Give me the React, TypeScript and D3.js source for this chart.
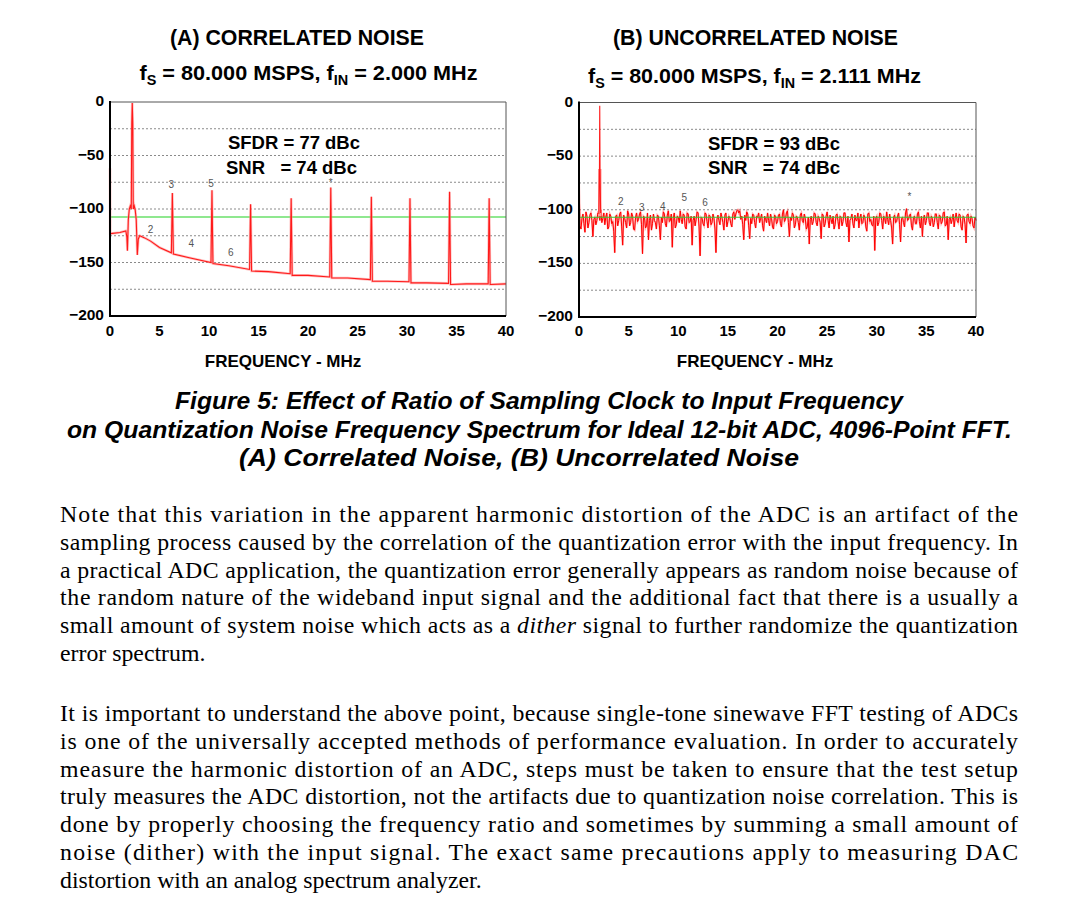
import React from 'react';
import * as d3 from 'd3';

// ---------- data ----------
const freqTicks = [0, 5, 10, 15, 20, 25, 30, 35, 40];
const dbTickLabels = [0, -50, -100, -150, -200];
const gridDb = [-25, -50, -75, -100, -125, -150, -175];

// (A) correlated noise trace: frequency (MHz) / level (dB)
const corrFreq = [0, 0.02, 0.06, 1.0, 1.6, 1.7, 1.76, 1.85, 1.95, 2.05, 2.15, 2.2, 2.25, 2.3, 2.35, 2.45, 2.55, 2.65, 2.76, 2.86, 3.0, 3.5, 4.1, 5.0, 6.2, 6.3, 6.4, 8.0, 10.2, 10.3, 10.4, 12.0, 14.1, 14.2, 14.3, 16.0, 18.2, 18.3, 18.4, 20.0, 22.2, 22.3, 22.4, 24.0, 26.3, 26.4, 26.5, 28.0, 30.2, 30.3, 30.4, 32.0, 34.2, 34.3, 34.4, 36.0, 38.2, 38.3, 38.4, 40.0];
const corrDb = [-62, -123, -123, -122, -120.5, -126, -139, -110, -100, -97, -100, -20, -1, -20, -100, -97, -101, -110, -143, -128, -125, -127, -130, -136, -141, -85, -142, -145.5, -150, -82.5, -151, -153, -156.5, -95.5, -158, -158.5, -160.5, -90, -162, -162, -163.5, -80, -164.5, -164.5, -166, -88.5, -167.5, -167.5, -168, -90, -169, -169, -169.5, -84, -170.5, -170, -170, -90, -170.5, -170];
const corrLabelText = ['2', '3', '4', '5', '6', '*'];
const corrLabelFreq = [4.1, 6.2, 8.2, 10.2, 12.2, 22.3];
const corrLabelDb = [-120, -78, -133, -77, -141, -76];

// (B) uncorrelated noise: levels every 0.1 MHz from 0 to 40 MHz
const uncorrStep = 0.1;
const uncorrDb = [
  -72, -115, -118, -108, -104, -113, -121, -102, -106, -117, -112, -105, -103, -110, -125, -109, -107, -114, -110, -103,
  -104, -110, -100, -112, -108, -103, -114, -107, -103, -118, -116, -104, -106, -113, -111, -120, -140, -106, -105, -115,
  -110, -104, -102, -116, -133, -105, -108, -112, -117, -101, -104, -115, -112, -103, -106, -118, -119, -107, -103, -111,
  -109, -104, -102, -114, -141, -106, -107, -117, -115, -103, -128, -110, -105, -119, -113, -104, -110, -112, -118, -105,
  -106, -115, -128, -107, -112, -102, -104, -113, -116, -105, -101, -111, -110, -104, -135, -108, -103, -117, -114, -106,
  -107, -112, -101, -109, -113, -104, -105, -116, -118, -103, -104, -112, -111, -106, -133, -110, -106, -115, -109, -102,
  -103, -116, -143, -107, -108, -113, -115, -103, -104, -111, -117, -105, -106, -114, -112, -104, -108, -118, -140, -109,
  -105, -110, -114, -103, -107, -112, -119, -105, -103, -116, -111, -106, -108, -113, -116, -104, -102, -109, -104, -101,
  -100, -103, -101, -109, -106, -114, -128, -105, -110, -102, -104, -115, -127, -108, -113, -104, -105, -112, -117, -106,
  -107, -103, -112, -108, -104, -115, -120, -106, -109, -112, -103, -110, -115, -104, -108, -116, -118, -105, -106, -113,
  -111, -105, -104, -113, -116, -104, -100, -111, -109, -103, -101, -112, -125, -107, -110, -103, -105, -117, -114, -106,
  -107, -112, -119, -105, -103, -110, -112, -104, -108, -118, -116, -107, -132, -109, -106, -114, -111, -103, -104, -112,
  -115, -106, -108, -112, -127, -104, -105, -116, -113, -106, -102, -110, -117, -105, -109, -113, -106, -118, -114, -105,
  -104, -111, -118, -106, -107, -115, -111, -103, -103, -112, -116, -106, -130, -110, -108, -104, -113, -117, -105, -110,
  -110, -103, -117, -108, -104, -113, -112, -105, -107, -116, -120, -104, -103, -111, -109, -114, -115, -106, -138, -108,
  -106, -115, -112, -103, -104, -110, -118, -106, -108, -113, -102, -109, -114, -104, -110, -117, -132, -107, -105, -112,
  -111, -106, -103, -114, -130, -108, -107, -112, -116, -103, -99, -110, -109, -105, -104, -115, -119, -107, -106, -113,
  -113, -104, -102, -111, -117, -106, -125, -108, -105, -114, -110, -103, -103, -112, -115, -106, -108, -116, -112, -104,
  -104, -112, -118, -105, -106, -113, -111, -103, -102, -115, -114, -106, -128, -109, -107, -113, -109, -104, -116, -108,
  -103, -110, -112, -104, -105, -116, -119, -106, -107, -114, -131, -105, -104, -111, -113, -106, -108, -115, -117, -107, -110,
];
const uncorrFundFreq = [2.0, 2.06, 2.09, 2.12, 2.18];
const uncorrFundDb = [-104, -62, -3, -62, -103];
const uncorrLabelText = ['2', '3', '4', '5', '6', '*'];
const uncorrLabelFreq = [4.22, 6.33, 8.44, 10.6, 12.7, 33.3];
const uncorrLabelDb = [-93, -99, -98, -89, -94, -88];

const noiseFloorA = -107.5;
const noiseFloorB = -107;

const paragraph1 = [
  'Note that this variation in the apparent harmonic distortion of the ADC is an artifact of the',
  'sampling process caused by the correlation of the quantization error with the input frequency. In',
  'a practical ADC application, the quantization error generally appears as random noise because of',
  'the random nature of the wideband input signal and the additional fact that there is a usually a',
  'small amount of system noise which acts as a _dither_ signal to further randomize the quantization',
  'error spectrum.',
];
const paragraph2 = [
  'It is important to understand the above point, because single-tone sinewave FFT testing of ADCs',
  'is one of the universally accepted methods of performance evaluation. In order to accurately',
  'measure the harmonic distortion of an ADC, steps must be taken to ensure that the test setup',
  'truly measures the ADC distortion, not the artifacts due to quantization noise correlation. This is',
  'done by properly choosing the frequency ratio and sometimes by summing a small amount of',
  'noise (dither) with the input signal. The exact same precautions apply to measuring DAC',
  'distortion with an analog spectrum analyzer.',
];
const captionLines = [
  'Figure 5: Effect of Ratio of Sampling Clock to Input Frequency',
  'on Quantization Noise Frequency Spectrum for Ideal 12-bit ADC, 4096-Point FFT.',
  '(A) Correlated Noise, (B) Uncorrelated Noise',
];

const SANS = 'Liberation Sans, Arial, Helvetica, sans-serif';
const SERIF = 'Liberation Serif, Times New Roman, serif';

type Scale = d3.ScaleLinear<number, number>;
type PanelProps = {
  x0: number; x1: number; y0: number; y1: number;
  children: (x: Scale, y: Scale) => React.ReactNode;
};

function Panel({ x0, x1, y0, y1, children }: PanelProps) {
  const x = d3.scaleLinear().domain([0, 40]).range([x0, x1]);
  const y = d3.scaleLinear().domain([-200, 0]).range([y1, y0]);
  return (
    <g>
      <rect x={x0} y={y0} width={x1 - x0} height={y1 - y0} fill="#fff" />
      {gridDb.map((d) => (
        <line key={d} x1={x0} x2={x1} y1={y(d)} y2={y(d)} stroke="#8a8a8a" strokeWidth={1} strokeDasharray="2,2" />
      ))}
      {children(x, y)}
      <line x1={x0} x2={x1} y1={y0} y2={y0} stroke="#555" strokeWidth={1} />
      <line x1={x1} x2={x1} y1={y0} y2={y1} stroke="#555" strokeWidth={1} />
      <line x1={x0} x2={x0} y1={y0 - 1} y2={y1 + 1} stroke="#000" strokeWidth={2} />
      <line x1={x0 - 1} x2={x1} y1={y1} y2={y1} stroke="#000" strokeWidth={2} />
      {dbTickLabels.map((d) => (
        <text key={d} x={x0 - 6} y={y(d)} textAnchor="end" dominantBaseline="middle"
          fontFamily={SANS} fontWeight="bold" fontSize={15.5}>{d === 0 ? '0' : '\u2212' + Math.abs(d)}</text>
      ))}
      {freqTicks.map((f) => (
        <text key={f} x={x(f)} y={336} textAnchor="middle"
          fontFamily={SANS} fontWeight="bold" fontSize={15}>{f}</text>
      ))}
    </g>
  );
}

export default function App() {
  const line = d3.line<[number, number]>();

  const leftPanel = (x: Scale, y: Scale) => {
    const pts: [number, number][] = corrFreq.map((f, i) => [x(f), y(corrDb[i])]);
    return (
      <g>
        <line x1={x(0)} x2={x(40)} y1={y(noiseFloorA)} y2={y(noiseFloorA)} stroke="#8fe88f" strokeWidth={2} />
        <path d={line(pts) || ''} fill="none" stroke="#ff8c8c" strokeWidth={2.6} strokeOpacity={0.55} />
        <path d={line(pts) || ''} fill="none" stroke="#ff1a1a" strokeWidth={1.1} />
        {corrLabelText.map((t, i) => (
          <text key={i} x={x(corrLabelFreq[i])} y={y(corrLabelDb[i])} textAnchor="middle" dominantBaseline="middle"
            fontFamily={SANS} fontSize={10} fill="#555">{t}</text>
        ))}
        <text x={228} y={149} fontFamily={SANS} fontWeight="bold" fontSize={18} textLength={132} lengthAdjust="spacingAndGlyphs">SFDR = 77 dBc</text>
        <text x={226} y={174} fontFamily={SANS} fontWeight="bold" fontSize={18} textLength={131} lengthAdjust="spacingAndGlyphs" style={{ whiteSpace: 'pre' }}>{'SNR   = 74 dBc'}</text>
      </g>
    );
  };

  const rightPanel = (x: Scale, y: Scale) => {
    const pts: [number, number][] = uncorrDb.map((d, i) => [x(i * uncorrStep), y(d)]);
    const fund: [number, number][] = uncorrFundFreq.map((f, i) => [x(f), y(uncorrFundDb[i])]);
    return (
      <g>
        <path d={line(pts) || ''} fill="none" stroke="#ff6a6a" strokeWidth={1.9} strokeOpacity={0.55} />
        <path d={line(pts) || ''} fill="none" stroke="#ff0000" strokeWidth={1.0} />
        <line x1={x(2.09)} x2={x(2.09)} y1={y(-62)} y2={y(-106)} stroke="#ff9a9a" strokeWidth={3.5} />
        <path d={line(fund) || ''} fill="none" stroke="#ff1a1a" strokeWidth={1.1} />
        <line x1={x(0)} x2={x(40)} y1={y(noiseFloorB)} y2={y(noiseFloorB)} stroke="#33cc33" strokeWidth={1} />
        {uncorrLabelText.map((t, i) => (
          <text key={i} x={x(uncorrLabelFreq[i])} y={y(uncorrLabelDb[i])} textAnchor="middle" dominantBaseline="middle"
            fontFamily={SANS} fontSize={10} fill="#555">{t}</text>
        ))}
        <text x={708} y={150} fontFamily={SANS} fontWeight="bold" fontSize={18} textLength={132} lengthAdjust="spacingAndGlyphs">SFDR = 93 dBc</text>
        <text x={708} y={174} fontFamily={SANS} fontWeight="bold" fontSize={18} textLength={132} lengthAdjust="spacingAndGlyphs" style={{ whiteSpace: 'pre' }}>{'SNR   = 74 dBc'}</text>
      </g>
    );
  };

  const fsLine = (cx: number, yb: number, fin: string, w: number) => (
    <text x={cx} y={yb} textAnchor="middle" fontFamily={SANS} fontWeight="bold" fontSize={21}
      textLength={w} lengthAdjust="spacingAndGlyphs">
      f<tspan fontSize={14} dy={5}>S</tspan><tspan dy={-5}> = 80.000 MSPS, f</tspan><tspan fontSize={14} dy={5}>IN</tspan><tspan dy={-5}>{' = ' + fin + ' MHz'}</tspan>
    </text>
  );

  const renderPara = (lines: string[], top: number) =>
    lines.map((ln, i) => {
      const parts = ln.split('_');
      const justify = i !== lines.length - 1;
      return (
        <text key={i} x={60} y={top + i * 27.8} fontFamily={SERIF} fontSize={23.8}
          {...(justify ? { textLength: 958, lengthAdjust: 'spacing' } : {})} style={{ whiteSpace: 'pre' }}>
          {parts.map((p, j) => (
            <tspan key={j} fontStyle={j % 2 === 1 ? 'italic' : 'normal'}>{p}</tspan>
          ))}
        </text>
      );
    });

  const cap = (i: number, cx: number, y: number, w: number) => (
    <text x={cx} y={y} textAnchor="middle" fontFamily={SANS} fontWeight="bold" fontStyle="italic" fontSize={23.5}
      textLength={w} lengthAdjust="spacingAndGlyphs">{captionLines[i]}</text>
  );

  return (
    <svg width={1080} height={911} viewBox="0 0 1080 911"
      style={{ position: 'absolute', left: 0, top: 0, background: '#fff' }}>
      <rect x={0} y={0} width={1080} height={911} fill="#fff" />
      {/* panel titles */}
      <text x={297} y={45} textAnchor="middle" fontFamily={SANS} fontWeight="bold" fontSize={21.5}
        textLength={254} lengthAdjust="spacingAndGlyphs">(A) CORRELATED NOISE</text>
      {fsLine(308.5, 80, '2.000', 338)}
      <text x={755.5} y={45} textAnchor="middle" fontFamily={SANS} fontWeight="bold" fontSize={21.5}
        textLength={285} lengthAdjust="spacingAndGlyphs">(B) UNCORRELATED NOISE</text>
      {fsLine(754.5, 83, '2.111', 333)}

      <Panel x0={110} x1={506} y0={102} y1={316}>{leftPanel}</Panel>
      <Panel x0={579} x1={976} y0={102.5} y1={317}>{rightPanel}</Panel>

      <text x={283} y={367} textAnchor="middle" fontFamily={SANS} fontWeight="bold" fontSize={17}>FREQUENCY - MHz</text>
      <text x={755} y={367} textAnchor="middle" fontFamily={SANS} fontWeight="bold" fontSize={17}>FREQUENCY - MHz</text>

      {/* caption */}
      {cap(0, 539, 409, 728)}
      {cap(1, 539.5, 437.5, 945)}
      {cap(2, 519, 466, 560)}

      {renderPara(paragraph1, 522)}
      {renderPara(paragraph2, 721)}
    </svg>
  );
}
